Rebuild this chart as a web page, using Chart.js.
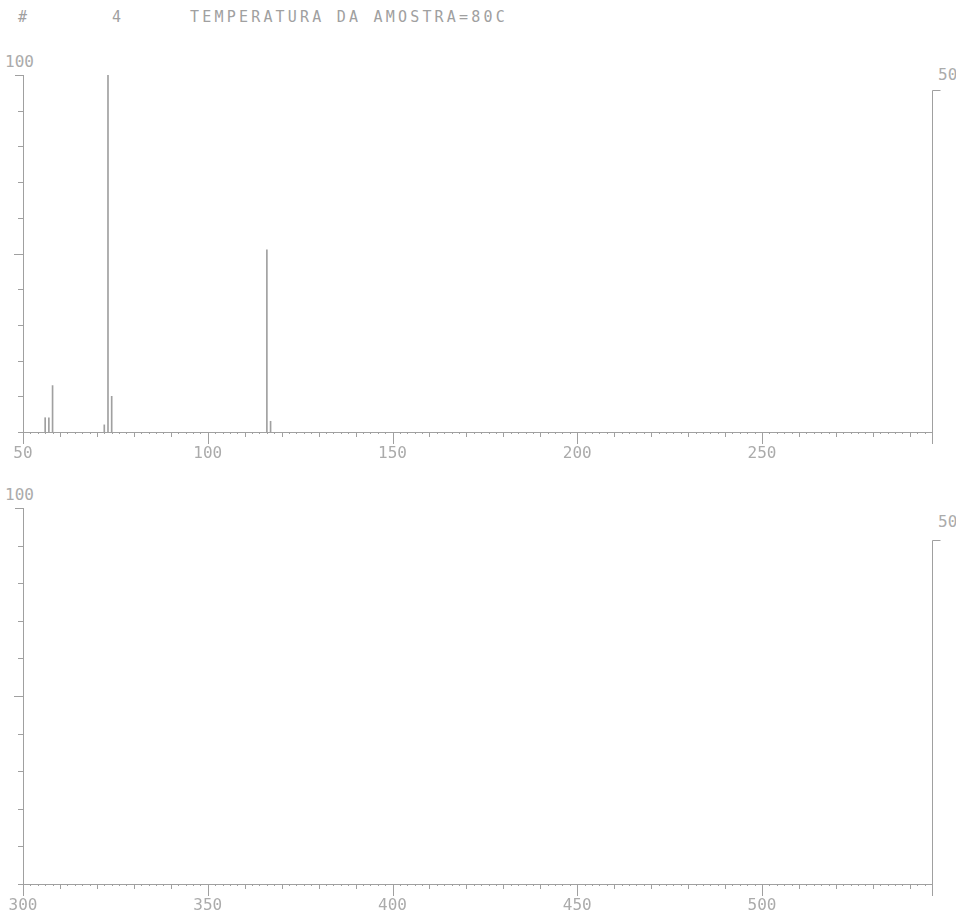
<!DOCTYPE html>
<html>
<head>
<meta charset="utf-8">
<script src="https://cdn.jsdelivr.net/npm/chart.js@4.4.0/dist/chart.umd.min.js"></script>
<style>
    body { margin: 0; background: #fff; width: 956px; height: 921px; position: relative; overflow: hidden;
           font-family: "DejaVu Sans Mono", monospace; color: #ababab; }
    .lbl { position: absolute; font-size: 16px; line-height: 16px; }
    .panel { position: absolute; left: 0; width: 956px; }
    .head { position: absolute; top: 10px; font-size: 15px; line-height: 15px; color: #a0a0a0; }
</style>
</head>
<body>

<div class="head" style="left:18px">#</div>
<div class="head" style="left:112px">4</div>
<div class="head" style="left:190px; letter-spacing:3.2px">TEMPERATURA DA AMOSTRA=80C</div>

<div class="lbl" style="left:5px; top:54px">100</div>
<div class="lbl" style="left:938px; top:67px">50</div>
<div class="lbl" style="left:5px; top:487px">100</div>
<div class="lbl" style="left:938px; top:514px">50</div>

<div class="panel" style="top:40px; height:440px"><canvas id="topChart" width="956" height="440"></canvas></div>
<div class="panel" style="top:480px; height:441px"><canvas id="bottomChart" width="956" height="441"></canvas></div>

<script>
/* ---------- 資料 ---------- */
const topMz        = [56, 57, 58, 72, 73, 74, 116, 117];
const topIntensity = [4, 4, 13, 2, 100, 10, 51, 3];
const bottomMz        = [];
const bottomIntensity = [];

const topRange    = [50, 296];
const bottomRange = [300, 546];
const yTicks      = [0, 10, 20, 30, 40, 50, 60, 70, 80, 90, 100];
const rightTick   = 50;

/* ---------- 樣式 ---------- */
const lineColor = "#a0a0a0";
const textColor = "#ababab";

/* ---------- 軸刻度 (plotter style) ---------- */
const axisMarks = {
    id: "axisMarks",
    afterDraw(chart) {
        const { ctx, chartArea: a, scales } = chart;
        const x = scales.x, y = scales.y, y2 = scales.y2;
        ctx.save();
        ctx.strokeStyle = lineColor;
        ctx.lineWidth = 1;
        ctx.beginPath();

        // x ticks, pointing down
        for (let v = x.min; v <= x.max; v += 2) {
            let len = v % 50 === 0 ? 12 : (v % 10 === 0 ? 5 : 2);
            const px = Math.round(x.getPixelForValue(v)) + 0.5;
            ctx.moveTo(px, a.bottom);
            ctx.lineTo(px, a.bottom + len);
        }
        const endPx = Math.round(x.getPixelForValue(x.max)) + 0.5;
        ctx.moveTo(endPx, a.bottom);
        ctx.lineTo(endPx, a.bottom + 12);

        // left ticks, pointing left
        yTicks.forEach(v => {
            const py = Math.round(y.getPixelForValue(v)) + 0.5;
            const len = v === 50 ? 9 : (v === 100 ? 8 : 5);
            ctx.moveTo(a.left, py);
            ctx.lineTo(a.left - len, py);
        });

        // right axis up to its single tick
        const rx = Math.round(a.right) + 0.5;
        const top = Math.round(y2.getPixelForValue(rightTick)) + 0.5;
        ctx.moveTo(rx, a.bottom + 12);
        ctx.lineTo(rx, top);
        ctx.lineTo(rx + 8, top);

        ctx.stroke();
        ctx.restore();
    }
};

/* ---------- 圖表 ---------- */
function makePanel(id, mz, inten, range, rightMax, padTop, xHeight) {
    const data = mz.map((m, i) => ({ x: m, y: inten[i] }));
    return new Chart(document.getElementById(id), {
        type: "bar",
        data: {
            datasets: [{
                data,
                backgroundColor: lineColor,
                borderWidth: 0,
                barThickness: 1
            }]
        },
        options: {
            responsive: false,
            animation: false,
            layout: { padding: { top: padTop, left: 0, right: 0, bottom: 0 } },
            plugins: { legend: { display: false }, tooltip: { enabled: false } },
            scales: {
                x: {
                    type: "linear",
                    offset: false,
                    min: range[0],
                    max: range[1],
                    // transparent tick marks only push the labels down
                    grid: { display: true, drawOnChartArea: false, drawTicks: true,
                            tickLength: 12, tickColor: "rgba(0,0,0,0)" },
                    border: { display: true, color: lineColor, width: 1 },
                    ticks: {
                        stepSize: 50,
                        includeBounds: false,
                        padding: 0,
                        color: textColor,
                        font: { family: "DejaVu Sans Mono", size: 16 },
                        maxRotation: 0,
                        autoSkip: false
                    },
                    afterFit(scale) { scale.height = xHeight; }
                },
                y: {
                    min: 0,
                    max: 100,
                    grid: { display: false, drawTicks: false },
                    border: { display: true, color: lineColor, width: 1 },
                    ticks: { display: false, stepSize: 10 },
                    afterFit(scale) { scale.width = 23; }
                },
                y2: {
                    position: "right",
                    min: 0,
                    max: rightMax,
                    grid: { display: false, drawTicks: false },
                    border: { display: false },
                    ticks: { display: false },
                    afterFit(scale) { scale.width = 24; }
                }
            }
        },
        plugins: [axisMarks]
    });
}

makePanel("topChart", topMz, topIntensity, topRange, 52.2, 35, 48);
makePanel("bottomChart", bottomMz, bottomIntensity, bottomRange, 54.7, 28, 37);
</script>
</body>
</html>
